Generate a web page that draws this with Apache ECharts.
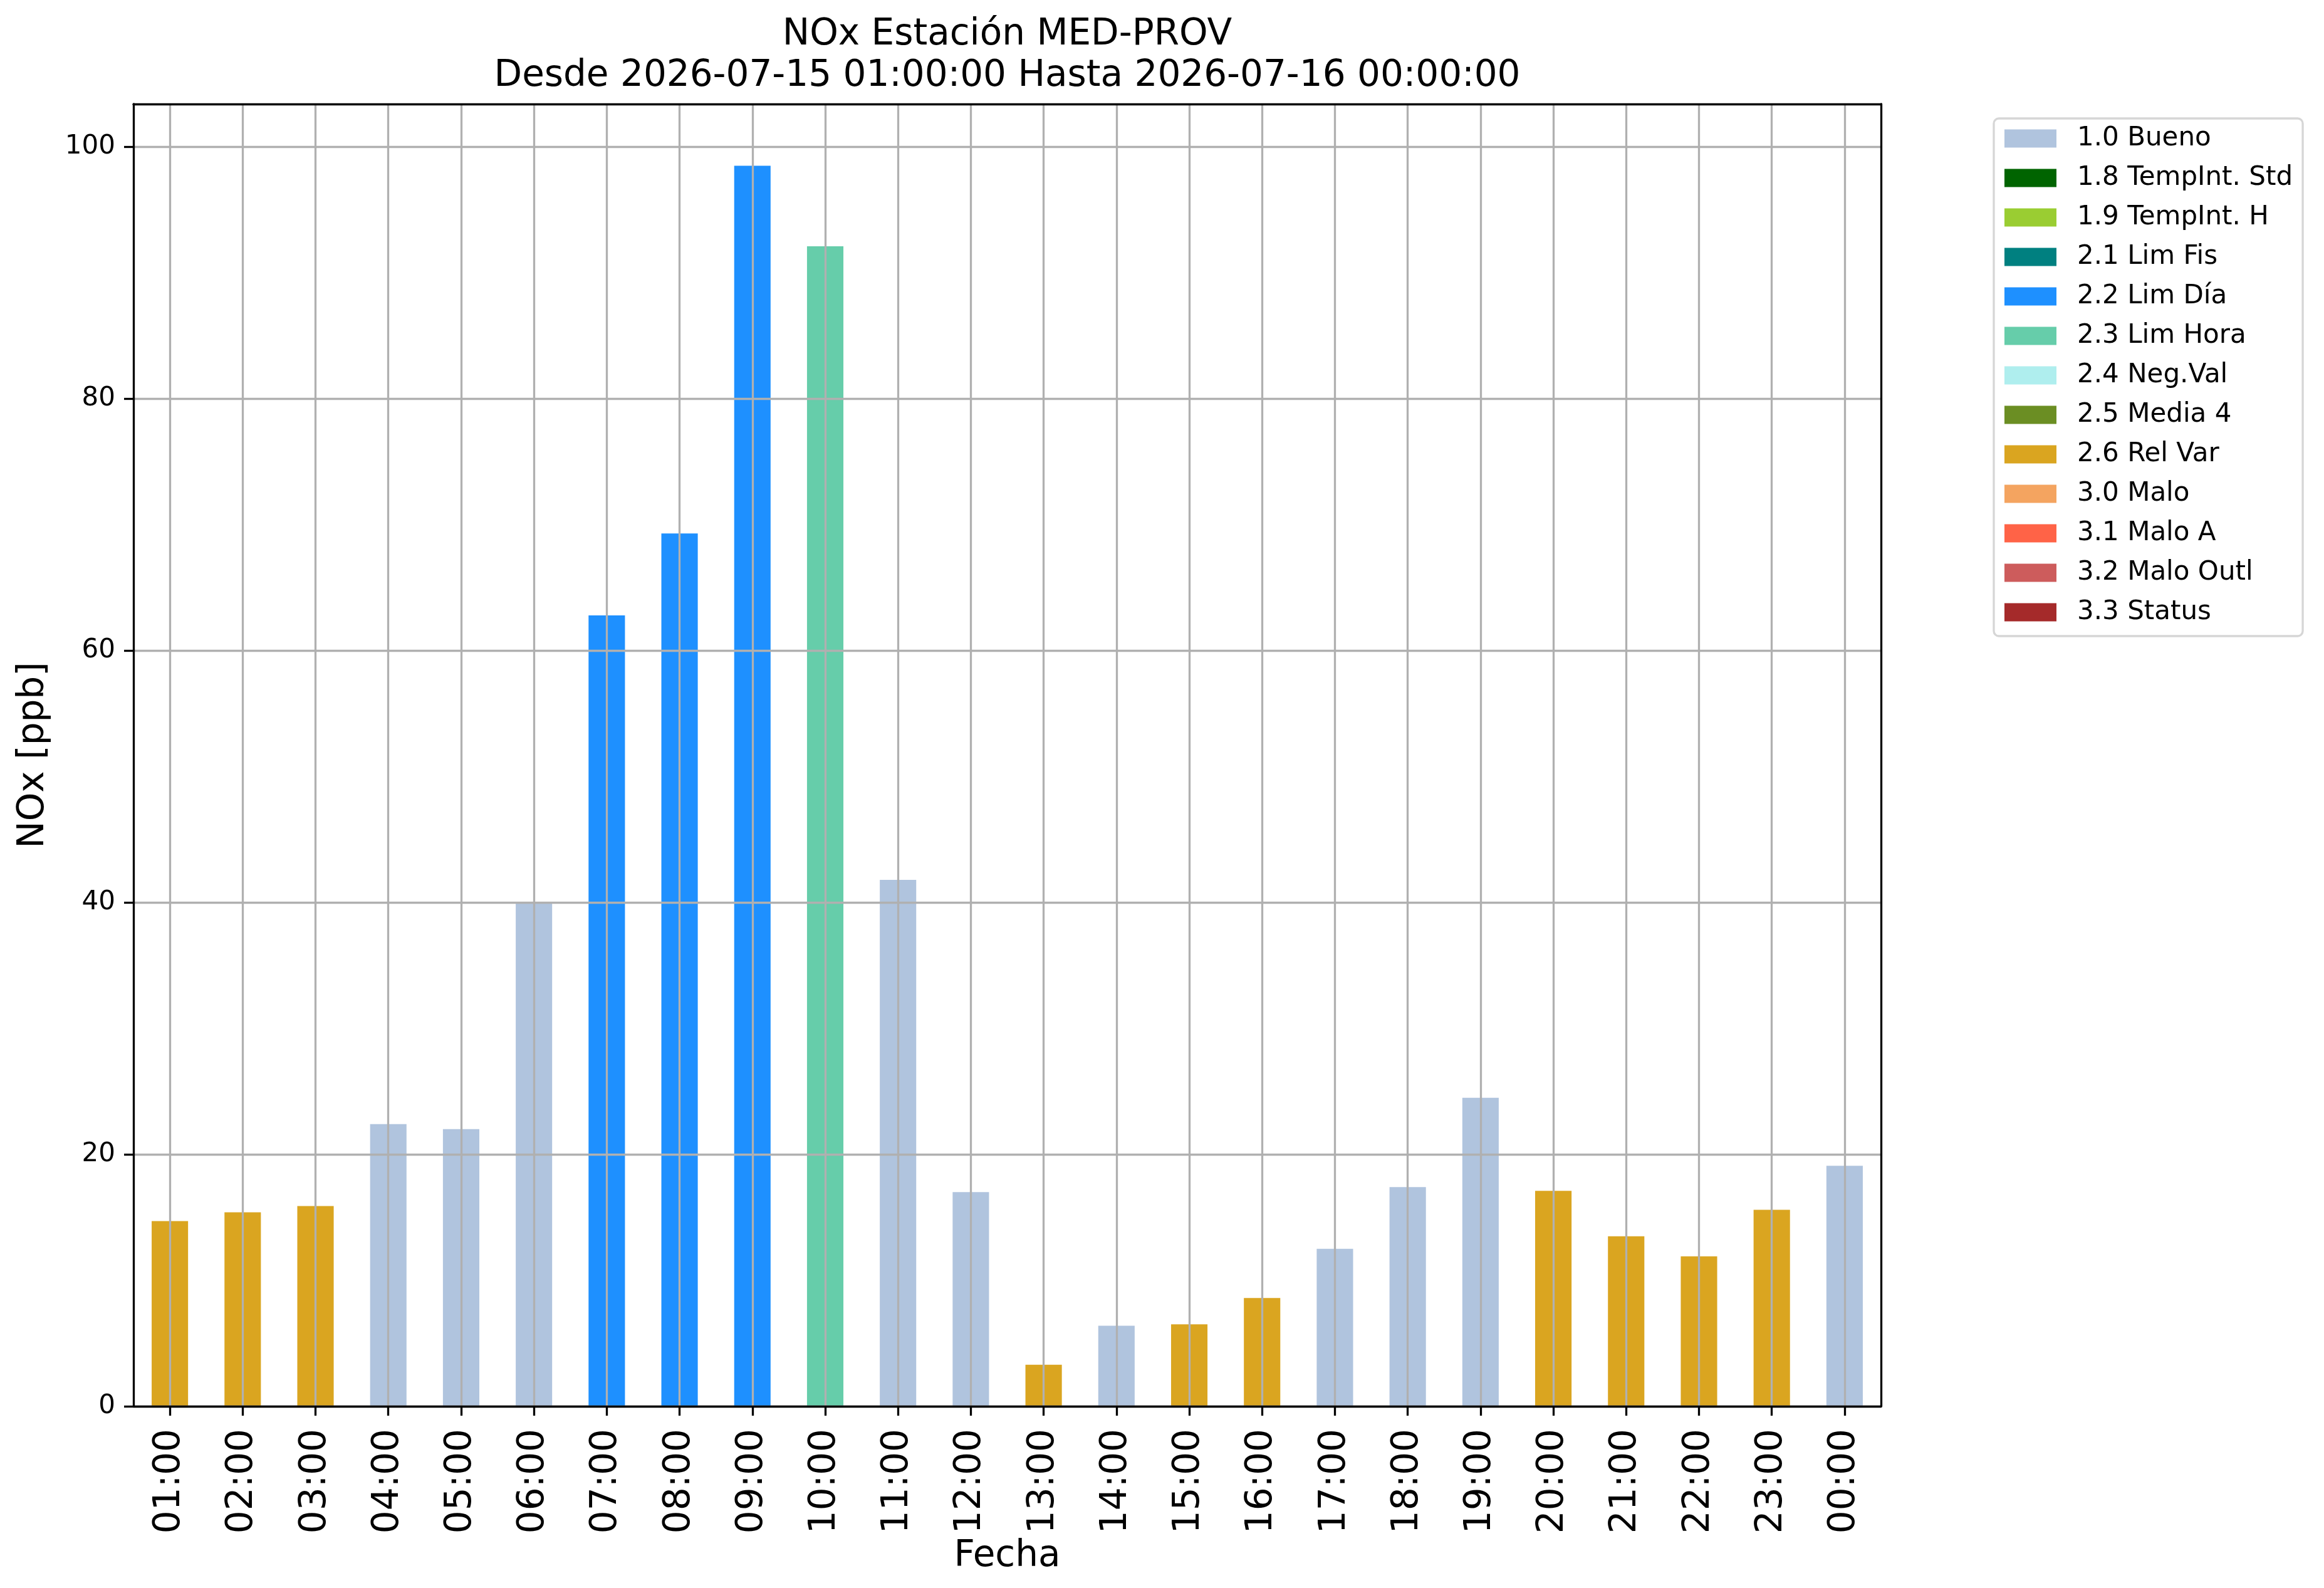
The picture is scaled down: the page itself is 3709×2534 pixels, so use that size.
<!DOCTYPE html>
<html>
<head>
<meta charset="utf-8">
<script src="https://cdn.jsdelivr.net/npm/echarts@6/dist/echarts.min.js"></script>
<style>
  html, body { margin: 0; padding: 0; background: #ffffff; }
  #chart { width: 3709px; height: 2534px; }
</style>
</head>
<body>
<div id="chart"></div>
<script>
const categories = ['01:00','02:00','03:00','04:00','05:00','06:00','07:00','08:00','09:00','10:00','11:00','12:00',
                    '13:00','14:00','15:00','16:00','17:00','18:00','19:00','20:00','21:00','22:00','23:00','00:00'];
const values = [14.7, 15.4, 15.9, 22.4, 22.0, 40.0, 62.8, 69.3, 98.5, 92.1, 41.8, 17.0,
                3.3, 6.4, 6.5, 8.6, 12.5, 17.4, 24.5, 17.1, 13.5, 11.9, 15.6, 19.1];
const flags = ['2.6 Rel Var','2.6 Rel Var','2.6 Rel Var','1.0 Bueno','1.0 Bueno','1.0 Bueno',
               '2.2 Lim Día','2.2 Lim Día','2.2 Lim Día','2.3 Lim Hora','1.0 Bueno','1.0 Bueno',
               '2.6 Rel Var','1.0 Bueno','2.6 Rel Var','2.6 Rel Var','1.0 Bueno','1.0 Bueno',
               '1.0 Bueno','2.6 Rel Var','2.6 Rel Var','2.6 Rel Var','2.6 Rel Var','1.0 Bueno'];
const flagNames = ['1.0 Bueno','1.8 TempInt. Std','1.9 TempInt. H','2.1 Lim Fis','2.2 Lim Día','2.3 Lim Hora',
                   '2.4 Neg.Val','2.5 Media 4','2.6 Rel Var','3.0 Malo','3.1 Malo A','3.2 Malo Outl','3.3 Status'];
const flagColors = ['#B0C4DE','#006400','#9ACD32','#008080','#1E90FF','#66CDAA',
                    '#AFEEEE','#6B8E23','#DAA520','#F4A460','#FF6347','#CD5C5C','#A52A2A'];
const yTicks = [0, 20, 40, 60, 80, 100];
const titleText = 'NOx Estación MED-PROV\nDesde 2026-07-15 01:00:00 Hasta 2026-07-16 00:00:00';
const xName = 'Fecha';
const yName = 'NOx [ppb]';

const FONT = 'DejaVu Sans';
const chart = echarts.init(document.getElementById('chart'), null, { renderer: 'canvas', devicePixelRatio: 1 });

const series = flagNames.map((name, i) => ({
  name: name,
  type: 'bar',
  stack: 'total',
  barWidth: '50%',
  z: 1,
  itemStyle: { color: flagColors[i] },
  emphasis: { disabled: true },
  data: values.map((v, j) => (flags[j] === name ? v : null))
}));

const option = {
  animation: false,
  backgroundColor: '#ffffff',
  textStyle: { fontFamily: FONT },
  title: {
    text: titleText,
    left: 1607.5,
    top: 23,
    padding: 0,
    textAlign: 'center',
    textStyle: { fontFamily: FONT, fontSize: 58, fontWeight: 'normal', color: '#000', lineHeight: 66 }
  },
  legend: {
    orient: 'vertical',
    left: 3182,
    top: 189,
    padding: [11, 16, 17, 17],
    itemWidth: 83,
    itemHeight: 29,
    itemGap: 21,
    icon: 'rect',
    selectedMode: false,
    backgroundColor: 'rgba(255,255,255,0.8)',
    borderColor: '#d6d6d6',
    borderWidth: 3.3,
    borderRadius: 8,
    data: flagNames,
    textStyle: { fontFamily: FONT, fontSize: 42, color: '#000', lineHeight: 42, padding: [0, 0, 0, 28] }
  },
  grid: {
    left: 213, top: 166, width: 2789, height: 2078,
    containLabel: false,
    outerBoundsMode: 'none'
  },
  xAxis: [{
    type: 'category',
    data: categories,
    boundaryGap: true,
    z: 3,
    name: xName,
    nameLocation: 'middle',
    nameGap: 199,
    nameTextStyle: { fontFamily: FONT, fontSize: 58, color: '#000' },
    axisLine: { show: true, onZero: false, lineStyle: { color: '#000', width: 3.3 } },
    axisTick: { show: true, alignWithLabel: true, interval: 0, length: 15, lineStyle: { color: '#000', width: 3.3 } },
    axisLabel: { interval: 0, rotate: 90, margin: 36, fontFamily: FONT, fontSize: 58, color: '#000' },
    splitLine: { show: true, alignWithLabel: true, interval: 0, lineStyle: { color: '#b0b0b0', width: 3.3 } }
  }, {
    type: 'category',
    data: categories,
    position: 'top',
    z: 4,
    axisLine: { show: true, onZero: false, lineStyle: { color: '#000', width: 3.3 } },
    axisTick: { show: false },
    axisLabel: { show: false },
    splitLine: { show: false }
  }],
  yAxis: [{
    type: 'value',
    min: 0,
    max: 103.4,
    interval: 20,
    z: 3,
    name: yName,
    nameLocation: 'middle',
    nameGap: 130,
    nameRotate: 90,
    nameTextStyle: { fontFamily: FONT, fontSize: 58, color: '#000' },
    axisLine: { show: true, onZero: false, lineStyle: { color: '#000', width: 3.3 } },
    axisTick: { show: true, length: 15, customValues: yTicks, lineStyle: { color: '#000', width: 3.3 } },
    axisLabel: { margin: 29, customValues: yTicks, fontFamily: FONT, fontSize: 42, color: '#000' },
    splitLine: { show: true, lineStyle: { color: '#b0b0b0', width: 3.3 } }
  }, {
    type: 'value',
    min: 0,
    max: 103.4,
    interval: 20,
    position: 'right',
    z: 4,
    axisLine: { show: true, onZero: false, lineStyle: { color: '#000', width: 3.3 } },
    axisTick: { show: false },
    axisLabel: { show: false },
    splitLine: { show: false }
  }],
  series: series
};
chart.setOption(option);
</script>
</body>
</html>
